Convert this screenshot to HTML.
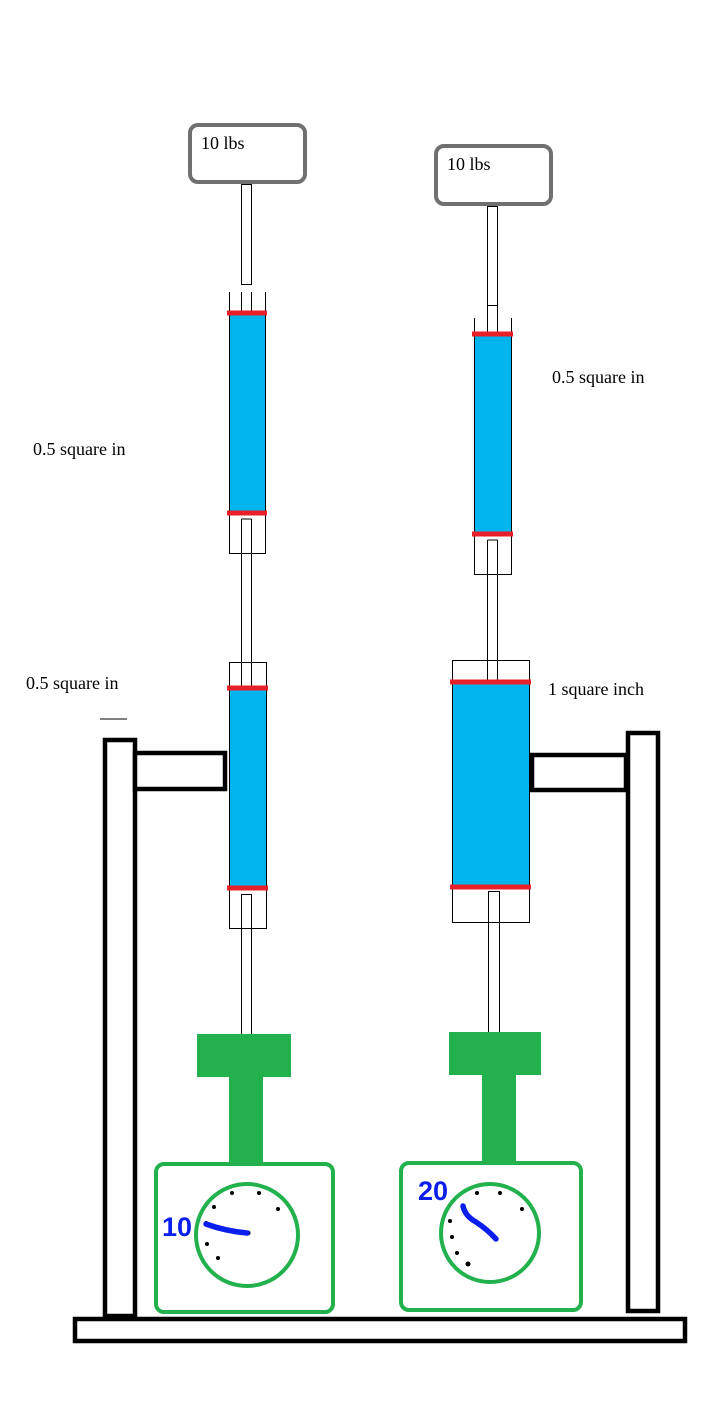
<!DOCTYPE html>
<html><head><style>body{margin:0;background:#fff}svg{display:block}</style></head><body>
<svg width="708" height="1417" viewBox="0 0 708 1417" xmlns="http://www.w3.org/2000/svg">
<rect width="708" height="1417" fill="#fff"/>
<g font-family="Liberation Serif, serif" font-size="18" fill="#000">
<text x="33" y="455">0.5 square in</text>
<text x="26" y="689">0.5 square in</text>
<text x="552" y="383">0.5 square in</text>
<text x="548" y="695">1 square inch</text>
</g>
<line x1="100" y1="719" x2="127" y2="719" stroke="#000" stroke-width="1"/>
<rect x="190" y="125" width="115" height="57" rx="8" fill="#fff" stroke="#707070" stroke-width="4"/>
<text x="201" y="149" font-family="Liberation Serif, serif" font-size="18">10 lbs</text>
<rect x="436" y="146" width="115" height="58" rx="8" fill="#fff" stroke="#707070" stroke-width="4"/>
<text x="447" y="170" font-family="Liberation Serif, serif" font-size="18">10 lbs</text>
<g fill="none" stroke="#000" stroke-width="1">
<rect x="241.5" y="184.5" width="10" height="100"/>
<line x1="241.5" y1="292" x2="241.5" y2="313"/><line x1="251.5" y1="292" x2="251.5" y2="313"/>
<line x1="229.5" y1="292" x2="229.5" y2="313"/><line x1="265.5" y1="292" x2="265.5" y2="313"/>
<line x1="241.5" y1="519" x2="241.5" y2="662"/><line x1="251.5" y1="519" x2="251.5" y2="662"/>
<line x1="241.5" y1="519" x2="251.5" y2="519"/>
<rect x="229.5" y="662.5" width="37" height="26"/>
<line x1="241.5" y1="662" x2="241.5" y2="688"/><line x1="251.5" y1="662" x2="251.5" y2="688"/>
<rect x="241.5" y="894.5" width="10" height="141"/>
<rect x="487.5" y="206.5" width="10" height="99"/>
<line x1="474.5" y1="318" x2="474.5" y2="334"/><line x1="511.5" y1="318" x2="511.5" y2="334"/>
<line x1="487.5" y1="305" x2="487.5" y2="334"/><line x1="497.5" y1="305" x2="497.5" y2="334"/>
<line x1="487.5" y1="540" x2="487.5" y2="682"/><line x1="497.5" y1="540" x2="497.5" y2="682"/>
<line x1="487.5" y1="540" x2="497.5" y2="540"/>
<rect x="452.5" y="660.5" width="77" height="22"/>
<rect x="488.5" y="891.5" width="11" height="141"/>
</g>
<rect x="229.5" y="313.5" width="36" height="200" fill="#00b4ee" stroke="#000"/>
<rect x="229.5" y="513.5" width="36" height="40" fill="none" stroke="#000"/>
<line x1="241.5" y1="519" x2="241.5" y2="553" stroke="#000"/><line x1="251.5" y1="519" x2="251.5" y2="553" stroke="#000"/>
<line x1="227" y1="313" x2="267" y2="313" stroke="#e8202a" stroke-width="5"/>
<line x1="227" y1="513" x2="267" y2="513" stroke="#e8202a" stroke-width="5"/>
<rect x="474.5" y="334.5" width="37" height="200" fill="#00b4ee" stroke="#000"/>
<rect x="474.5" y="534.5" width="37" height="40" fill="none" stroke="#000"/>
<line x1="487.5" y1="540" x2="487.5" y2="574" stroke="#000"/><line x1="497.5" y1="540" x2="497.5" y2="574" stroke="#000"/>
<line x1="472" y1="334" x2="513" y2="334" stroke="#e8202a" stroke-width="5"/>
<line x1="472" y1="534" x2="513" y2="534" stroke="#e8202a" stroke-width="5"/>
<rect x="229.5" y="688.5" width="37" height="200" fill="#00b4ee" stroke="#000"/>
<rect x="229.5" y="888.5" width="37" height="40" fill="none" stroke="#000"/>
<line x1="241.5" y1="894" x2="241.5" y2="928" stroke="#000"/><line x1="251.5" y1="894" x2="251.5" y2="928" stroke="#000"/>
<line x1="227" y1="688" x2="268" y2="688" stroke="#e8202a" stroke-width="5"/>
<line x1="227" y1="888" x2="268" y2="888" stroke="#e8202a" stroke-width="5"/>
<rect x="452.5" y="682.5" width="77" height="205" fill="#00b4ee" stroke="#000"/>
<rect x="452.5" y="887.5" width="77" height="35" fill="none" stroke="#000"/>
<line x1="488.5" y1="891" x2="488.5" y2="922" stroke="#000"/><line x1="499.5" y1="891" x2="499.5" y2="922" stroke="#000"/>
<line x1="450" y1="682" x2="531" y2="682" stroke="#e8202a" stroke-width="5"/>
<line x1="450" y1="887" x2="531" y2="887" stroke="#e8202a" stroke-width="5"/>
<g fill="#fff" stroke="#000" stroke-width="4.5">
<rect x="105" y="740" width="30" height="576"/>
<rect x="135" y="753" width="90" height="36"/>
<rect x="628" y="733" width="30" height="578"/>
<rect x="532" y="755" width="94" height="35"/>
<rect x="75" y="1319" width="610" height="22"/>
</g>
<rect x="197" y="1034" width="94" height="43" fill="#22b14c"/>
<rect x="229" y="1077" width="34" height="88" fill="#22b14c"/>
<rect x="449" y="1032" width="92" height="43" fill="#22b14c"/>
<rect x="482" y="1075" width="34" height="88" fill="#22b14c"/>
<g fill="#fff" stroke="#22b14c" stroke-width="4">
<rect x="156" y="1164" width="177" height="148" rx="8"/>
<circle cx="247" cy="1235" r="51"/>
<rect x="401" y="1163" width="180" height="147" rx="8"/>
<circle cx="490" cy="1233" r="49"/>
</g>
<g fill="#000">
<circle cx="232" cy="1193" r="2"/><circle cx="259" cy="1193" r="2"/><circle cx="278" cy="1209" r="2"/><circle cx="214" cy="1207" r="2"/><circle cx="206" cy="1223" r="2"/><circle cx="207" cy="1244" r="2"/><circle cx="218" cy="1258" r="2"/><circle cx="248" cy="1233" r="2.5"/>
<circle cx="477" cy="1193" r="2"/><circle cx="500" cy="1193" r="2"/><circle cx="522" cy="1209" r="2"/><circle cx="450" cy="1221" r="2"/><circle cx="452" cy="1237" r="2"/><circle cx="457" cy="1253" r="2"/><circle cx="468" cy="1264" r="2.5"/>
</g>
<path d="M206 1224 Q225 1231 247 1233" stroke="#0a1eee" stroke-width="5.5" fill="none" stroke-linecap="round"/>
<path d="M463 1206 Q465 1216 476 1222 Q488 1230 496 1239" stroke="#0a1eee" stroke-width="5.5" fill="none" stroke-linecap="round"/>
<g font-family="Liberation Sans, sans-serif" font-weight="bold" font-size="27" fill="#0a1eee">
<text x="162" y="1236">10</text>
<text x="418" y="1200">20</text>
</g>
</svg>
</body></html>
